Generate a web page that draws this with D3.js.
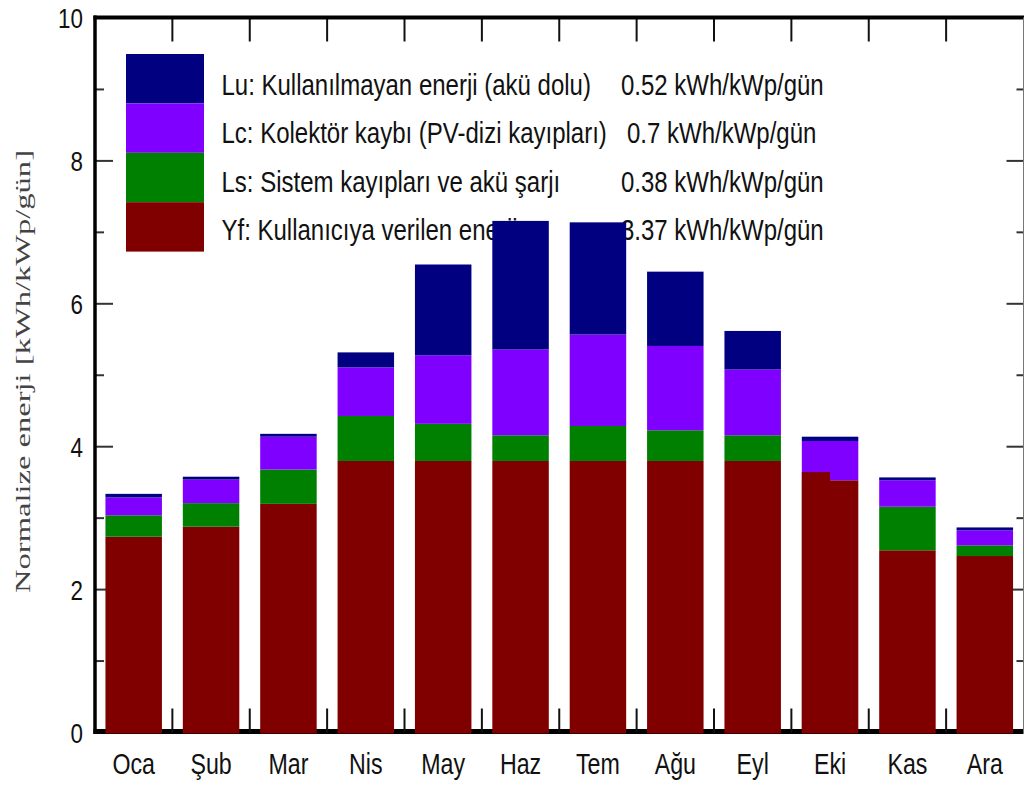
<!DOCTYPE html>
<html>
<head>
<meta charset="utf-8">
<script src="https://cdn.jsdelivr.net/npm/d3@7"></script>
<style>
  html, body { margin: 0; padding: 0; background: #fff; }
  svg { display: block; }
  text { font-family: "Liberation Sans", Arial, sans-serif; fill: #111; }
</style>
</head>
<body>
<svg id="chart" width="1024" height="787"></svg>
<script>
// ---- data ----
const months = ["Oca", "Şub", "Mar", "Nis", "May", "Haz", "Tem", "Ağu", "Eyl", "Eki", "Kas", "Ara"];
const Yf = [2.74, 2.88, 3.20, 3.80, 3.80, 3.80, 3.80, 3.80, 3.80, 3.53, 2.55, 2.47];
const Ls = [0.30, 0.33, 0.48, 0.63, 0.52, 0.36, 0.49, 0.43, 0.36, 0.00, 0.61, 0.15];
const Lc = [0.25, 0.33, 0.46, 0.68, 0.96, 1.20, 1.28, 1.18, 0.92, 0.55, 0.37, 0.21];
const Lu = [0.05, 0.04, 0.04, 0.21, 1.27, 1.80, 1.57, 1.04, 0.54, 0.06, 0.04, 0.04];
// left half of the Eki bar shows Yf reaching a little higher (artifact in source)
const YfLeftHalf = [null, null, null, null, null, null, null, null, null, 3.645, null, null];
const seriesKeys = ["Yf", "Ls", "Lc", "Lu"];
const seriesColors = { Yf: "#800000", Ls: "#008000", Lc: "#8000ff", Lu: "#000080" };
const legendKeys = ["Lu", "Lc", "Ls", "Yf"];
const legendLabels = [
  "Lu: Kullanılmayan enerji (akü dolu)",
  "Lc: Kolektör kaybı (PV-dizi kayıpları)",
  "Ls: Sistem kayıpları ve akü şarjı",
  "Yf: Kullanıcıya verilen enerji"
];
const legendValues = ["0.52 kWh/kWp/gün", "0.7 kWh/kWp/gün", "0.38 kWh/kWp/gün", "3.37 kWh/kWp/gün"];
const yTicksMajor = [0, 2, 4, 6, 8, 10];
const yTicksMinor = [1, 3, 5, 7, 9];
const yLabel = "Normalize enerji [kWh/kWp/gün]";

// ---- layout ----
const svg = d3.select("#chart");
const L = 95, R = 1023.5, T = 17.5, B = 732.5;
const SX = 0.8; // horizontal squeeze of the source text

const x = d3.scaleBand().domain(months).range([L, R]).paddingInner(0.27).paddingOuter(0.135);
const y = d3.scaleLinear().domain([0, 10]).range([B, 18]);

function squeezedText(g, tx, ty, str, size, anchor) {
  return g.append("text")
    .attr("transform", `translate(${tx},${ty}) scale(${SX},1)`)
    .attr("text-anchor", anchor || "start")
    .attr("font-size", size)
    .text(str);
}

// ---- legend (drawn beneath bars) ----
const lg = svg.append("g");
const boxX = 126, boxW = 78, boxTop = 54, rowH = 49.4;
legendKeys.forEach((k, i) => {
  lg.append("rect")
    .attr("x", boxX).attr("y", boxTop + i * rowH)
    .attr("width", boxW).attr("height", rowH)
    .attr("fill", seriesColors[k]);
  squeezedText(lg, 221.5, 95 + i * 48.4, legendLabels[i], 30, "start");
  squeezedText(lg, i === 1 ? 627 : 621, 95 + i * 48.4, legendValues[i], 30, "start");
});

// ---- axes frame ----
const ax = svg.append("g");
ax.append("line").attr("x1", L - 1.5).attr("x2", R).attr("y1", 731.5).attr("y2", 731.5)
  .attr("stroke", "#000").attr("stroke-width", 5);
const boundaries = months.slice(1).map(m => x(m) - x.step() * x.paddingInner() / 2);
ax.selectAll(".bt").data(boundaries).enter().append("line")
  .attr("x1", d => d).attr("x2", d => d).attr("y1", B).attr("y2", B - 24)
  .attr("stroke", "#111").attr("stroke-width", 2);
ax.selectAll(".tt").data(boundaries).enter().append("line")
  .attr("x1", d => d).attr("x2", d => d).attr("y1", T).attr("y2", T + 24)
  .attr("stroke", "#111").attr("stroke-width", 2);
ax.selectAll(".lmaj").data(yTicksMajor.slice(1, -1)).enter().append("line")
  .attr("x1", L).attr("x2", L + 18).attr("y1", d => y(d)).attr("y2", d => y(d))
  .attr("stroke", "#333").attr("stroke-width", 2);
ax.selectAll(".lmin").data(yTicksMinor).enter().append("line")
  .attr("x1", L).attr("x2", L + 9).attr("y1", d => y(d)).attr("y2", d => y(d))
  .attr("stroke", "#333").attr("stroke-width", 2);
ax.selectAll(".rmaj").data(yTicksMajor.slice(1, -1)).enter().append("line")
  .attr("x1", R).attr("x2", R - 17).attr("y1", d => y(d)).attr("y2", d => y(d))
  .attr("stroke", "#333").attr("stroke-width", 2);
ax.selectAll(".rmin").data(yTicksMinor).enter().append("line")
  .attr("x1", R).attr("x2", R - 7).attr("y1", d => y(d)).attr("y2", d => y(d))
  .attr("stroke", "#333").attr("stroke-width", 2);

// ---- bars ----
const rows = months.map((m, i) => ({ month: m, Yf: Yf[i], Ls: Ls[i], Lc: Lc[i], Lu: Lu[i] }));
const stacked = d3.stack().keys(seriesKeys)(rows);
const bars = svg.append("g");
stacked.forEach(layer => {
  bars.selectAll(null).data(layer).enter().append("rect")
    .attr("x", d => x(d.data.month))
    .attr("width", x.bandwidth())
    .attr("y", d => y(d[1]))
    .attr("height", d => Math.max(0, y(d[0]) - y(d[1])) + (layer.key === "Yf" ? 1 : 0))
    .attr("fill", seriesColors[layer.key]);
});
bars.selectAll(null).data(months.map((m, i) => ({ m, v: YfLeftHalf[i] })).filter(d => d.v != null))
  .enter().append("rect")
  .attr("x", d => x(d.m))
  .attr("width", x.bandwidth() / 2)
  .attr("y", d => y(d.v))
  .attr("height", d => B - y(d.v))
  .attr("fill", seriesColors.Yf);

// ---- frame lines on top ----
svg.append("line").attr("x1", L).attr("x2", L).attr("y1", 15.5).attr("y2", 734)
  .attr("stroke", "#000").attr("stroke-width", 3.5);
svg.append("line").attr("x1", L - 1.5).attr("x2", 1024).attr("y1", T).attr("y2", T)
  .attr("stroke", "#000").attr("stroke-width", 4);
svg.append("line").attr("x1", R).attr("x2", R).attr("y1", T).attr("y2", 734)
  .attr("stroke", "#777").attr("stroke-width", 1);

// ---- tick labels ----
const tl = svg.append("g");
yTicksMajor.forEach(v => squeezedText(tl, 83, y(v) + 10, String(v), 28, "end"));
months.forEach(m => squeezedText(tl, x(m) + x.bandwidth() / 2, 773.5, m, 29, "middle"));

// ---- y axis title ----
svg.append("text")
  .attr("transform", `translate(30,371.5) rotate(-90)`)
  .attr("text-anchor", "middle")
  .attr("font-size", 21)
  .attr("textLength", 443)
  .attr("lengthAdjust", "spacingAndGlyphs")
  .style("fill", "#444")
  .style("font-family", "'Liberation Serif', 'Times New Roman', serif")
  .text(yLabel);
</script>
</body>
</html>
